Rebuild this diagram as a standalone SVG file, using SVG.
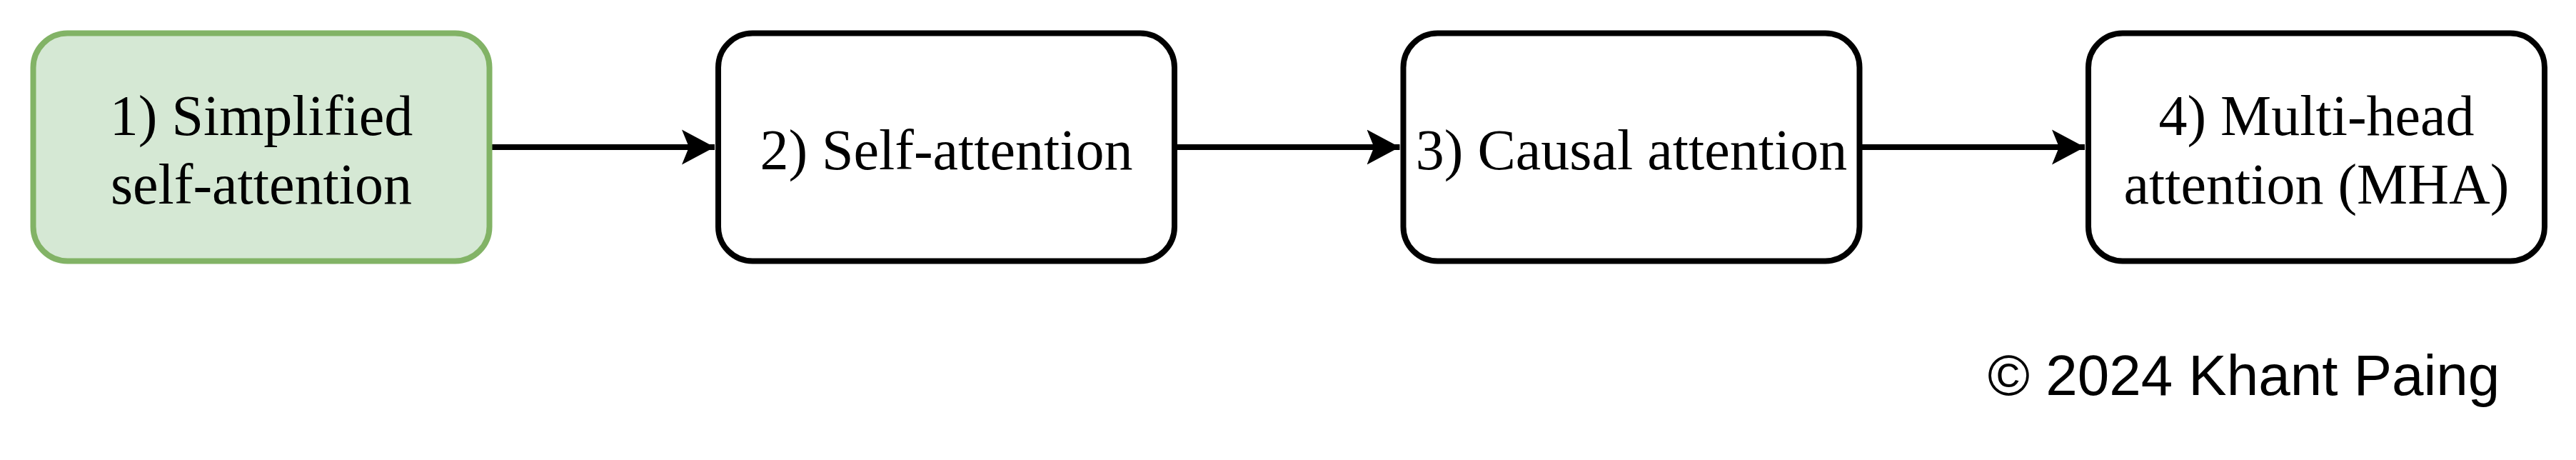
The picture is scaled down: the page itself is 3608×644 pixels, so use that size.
<svg xmlns="http://www.w3.org/2000/svg" width="3608" height="644" viewBox="0 0 3608 644">
<style>
.box{fill:#ffffff;stroke:#000000;stroke-width:8}
.green{fill:#d5e8d4;stroke:#82b366}
.lbl{font-family:"Liberation Serif","Times New Roman",serif;font-size:80px;fill:#000;text-anchor:middle}
.edge{fill:none;stroke:#000;stroke-width:8}
.copy{font-family:"Liberation Sans",Arial,sans-serif;font-size:80px;fill:#000}
</style>
<defs>
<marker id="arrow" markerUnits="userSpaceOnUse" markerWidth="50" markerHeight="52" refX="46" refY="25" orient="auto" viewBox="0 0 50 50">
<path d="M46,25 L0,0.5 L10,25 L0,49.5 Z" fill="#000"/>
</marker>
</defs>
<rect width="3608" height="644" fill="#ffffff"/>
<g id="connectors">
<path class="edge" d="M685.5,206 L1001,206" marker-end="url(#arrow)"/>
<path class="edge" d="M1645,206 L1960.5,206" marker-end="url(#arrow)"/>
<path class="edge" d="M2604.5,206 L2920,206" marker-end="url(#arrow)"/>
</g>
<g id="node1">
<rect class="box green" x="46.5" y="46.5" width="639" height="319" rx="48" ry="48"/>
<text class="lbl" x="366" y="189">1) Simplified</text>
<text class="lbl" x="366" y="285">self-attention</text>
</g>
<g id="node2">
<rect class="box" x="1006" y="46.5" width="639" height="319" rx="48" ry="48"/>
<text class="lbl" x="1325.5" y="237">2) Self-attention</text>
</g>
<g id="node3">
<rect class="box" x="1965.5" y="46.5" width="639" height="319" rx="48" ry="48"/>
<text class="lbl" x="2285" y="237">3) Causal attention</text>
</g>
<g id="node4">
<rect class="box" x="2925" y="46.5" width="639" height="319" rx="48" ry="48"/>
<text class="lbl" x="3244.5" y="189">4) Multi-head</text>
<text class="lbl" x="3244.5" y="285">attention (MHA)</text>
</g>
<g id="copyright">
<text class="copy" x="2784" y="553">© 2024 Khant Paing</text>
</g>
</svg>
